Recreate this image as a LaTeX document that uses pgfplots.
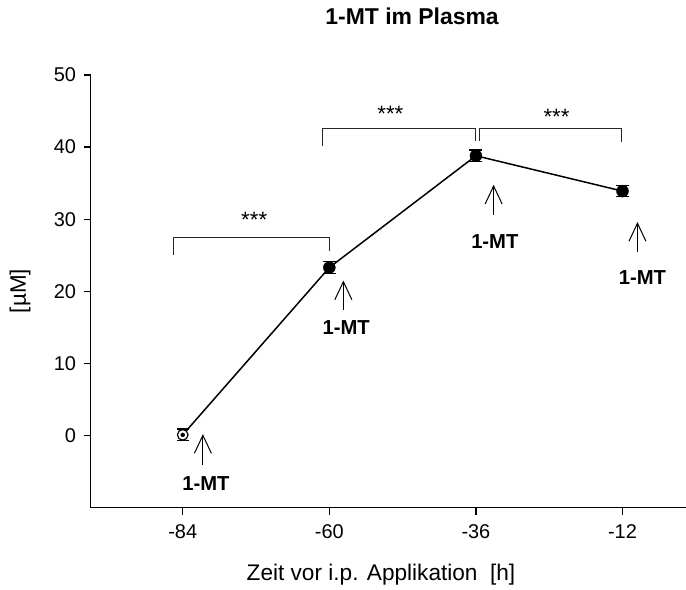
\documentclass[border=0pt]{standalone}
\usepackage{pgfplots}
\pgfplotsset{compat=1.18}
\usepackage{fontspec}
\setmainfont{Liberation Sans}
\usetikzlibrary{arrows.meta}

\pgfplotstableread{
x y err
-60 23.3 0.8
-36 38.8 0.8
-12 33.9 0.75
}\filled
\pgfplotstableread{
x y err
-84 0.1 0.8
}\open
\pgfplotstableread{
x y
-84 0.1
-60 23.3
-36 38.8
-12 33.9
}\meanline

\begin{document}
\begin{tikzpicture}[x=1bp,y=1bp]
\path[use as bounding box] (0,0) rectangle (686,590);
\begin{axis}[
  at={(90.5bp,82.3bp)}, anchor=south west,
  scale only axis, width=595.5bp, height=432.7bp,
  xmin=-99.1, xmax=-1.6, ymin=-10, ymax=50,
  axis x line*=bottom, axis y line*=left,
  axis line style={line width=1.6bp, black},
  xtick={-84,-60,-36,-12}, xticklabels={-84,-60,-36,-12},
  ytick={0,10,20,30,40,50}, yticklabels={0,10,20,30,40,50},
  tick align=outside, major tick length=7bp,
  tick style={line width=1.4bp, black},
  ticklabel style={font=\fontsize{20}{24}\selectfont},
  xticklabel style={yshift=-6bp},
  yticklabel style={xshift=-4bp},
  clip=false,
  title={\bfseries 1-MT im Plasma},
  title style={font=\fontsize{23}{27}\selectfont, at={(axis description cs:0.540,1.1225)}, anchor=center},
  xlabel={Zeit vor i.p. Applikation\ \ [h]},
  xlabel style={font=\fontsize{22.7}{27}\selectfont, at={(axis description cs:0.4878,-0.1555)}, anchor=center},
  ylabel={[µM]},
  ylabel style={font=\fontsize{22.5}{27}\selectfont, at={(axis description cs:-0.1184,0.5008)}, anchor=center, rotate=0},
]
\addplot[black, line width=1.5bp, no marks] table {\meanline};
% open circle (white filled, hides the connecting line)
\addplot[black, only marks, mark=*, mark size=5.3bp, mark options={line width=1.2bp, fill=white, draw=black}]
  table[x=x, y=y] {\open};
% its error bar drawn on top
\addplot[only marks, mark=none, forget plot,
  error bars/.cd, y dir=both, y explicit,
  error bar style={line width=1.3bp, draw=black},
  error mark options={rotate=90, mark size=6bp, line width=1.3bp, draw=black}]
  table[x=x, y=y, y error=err] {\open};
\addplot[black, only marks, mark=*, mark size=6bp,
  error bars/.cd, y dir=both, y explicit,
  error bar style={line width=1.3bp, black},
  error mark options={rotate=90, mark size=6.5bp, line width=1.3bp, black}]
  table[x=x, y=y, y error=err] {\filled};

% significance brackets
\draw[line width=1bp, black!85] (axis cs:-85.5,25.0) -- (axis cs:-85.5,27.5) -- (axis cs:-60.05,27.5) -- (axis cs:-60.05,25.6);
\draw[line width=1bp, black!85] (axis cs:-61.15,40.2) -- (axis cs:-61.15,42.55) -- (axis cs:-36,42.55) -- (axis cs:-36,40.9);
\draw[line width=1bp, black!85] (axis cs:-35.35,40.9) -- (axis cs:-35.35,42.55) -- (axis cs:-12.1,42.55) -- (axis cs:-12.1,40.65);
\node[anchor=base, inner sep=0pt, font=\fontsize{22.3}{26}\selectfont] at (axis cs:-72.3,28.8) {***};
\node[anchor=base, inner sep=0pt, font=\fontsize{22.3}{26}\selectfont] at (axis cs:-50.0,43.6) {***};
\node[anchor=base, inner sep=0pt, font=\fontsize{22.3}{26}\selectfont] at (axis cs:-22.8,43.07) {***};

% application arrows
\draw[line width=1bp, -{Straight Barb[length=18bp,width=17bp]}] (axis cs:-80.7,-4.05) -- (axis cs:-80.7,0.2);
\draw[line width=1bp, -{Straight Barb[length=18bp,width=17bp]}] (axis cs:-57.7,17.4) -- (axis cs:-57.7,21.5);
\draw[line width=1bp, -{Straight Barb[length=18bp,width=17bp]}] (axis cs:-33.1,30.6) -- (axis cs:-33.1,34.77);
\draw[line width=1bp, -{Straight Barb[length=18bp,width=17bp]}] (axis cs:-9.55,25.5) -- (axis cs:-9.55,29.6);
\node[font=\fontsize{20.3}{24}\selectfont\bfseries] at (axis cs:-80.2,-6.7) {1-MT};
\node[font=\fontsize{20.3}{24}\selectfont\bfseries] at (axis cs:-57.23,15.03) {1-MT};
\node[font=\fontsize{20.3}{24}\selectfont\bfseries] at (axis cs:-32.9,26.9) {1-MT};
\node[font=\fontsize{20.3}{24}\selectfont\bfseries] at (axis cs:-8.73,21.86) {1-MT};
\end{axis}
\end{tikzpicture}
\end{document}
